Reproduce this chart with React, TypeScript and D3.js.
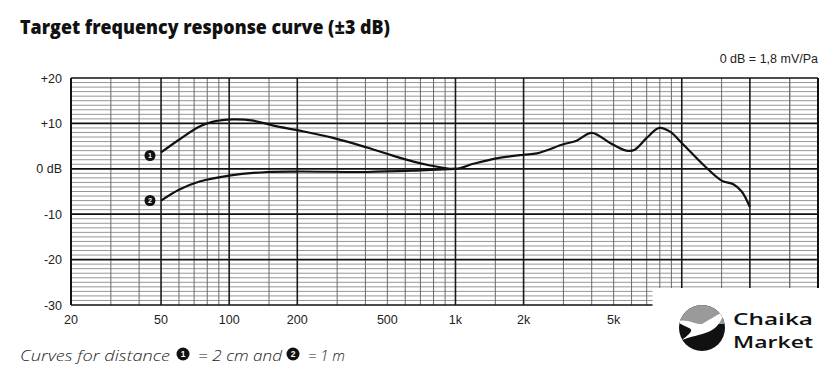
import React from "react";
import * as d3 from "d3";

// ---- Data ----
const freqsLow1 = [50, 60, 74, 85, 104, 128, 157, 205, 288, 406, 569, 747, 1000];
const dbLow1 = [3.6, 6.4, 9.3, 10.4, 10.9, 10.6, 9.5, 8.4, 6.8, 4.7, 2.4, 0.9, 0];
const freqsLow2 = [50, 60, 74, 100, 147, 205, 406, 666, 1000];
const dbLow2 = [-7.0, -4.6, -2.8, -1.5, -0.7, -0.6, -0.7, -0.4, 0];
const freqsHigh = [1000, 1200, 1520, 2000, 2290, 3000, 3430, 4000, 4820, 5700, 6200, 7000, 7960, 8870, 10000, 12450, 15000, 16900, 18400, 20000];
const dbHigh = [0, 1.1, 2.3, 3.1, 3.4, 5.4, 6.2, 7.9, 5.7, 4.0, 4.2, 6.8, 9.0, 8.2, 5.7, 0.9, -2.6, -3.4, -5.0, -8.4];

const yTickValues = [20, 10, 0, -10, -20, -30];
const yTickLabels = ["+20", "+10", "0 dB", "-10", "-20", "-30"];
const xTickValues = [20, 50, 100, 200, 500, 1000, 2000, 5000];
const xTickLabels = ["20", "50", "100", "200", "500", "1k", "2k", "5k"];
const gridMultipliers = [1, 1.5, 2, 3, 4, 5, 6, 7, 8, 9];
const gridDecades = [10, 100, 1000, 10000];
const thickFreqs = [50, 100, 200, 1000, 2000, 10000, 20000];

const titleText = "Target frequency response curve (±3 dB)";
const refText = "0 dB = 1,8 mV/Pa";

const W = 840;
const H = 381;
const left = 71;
const right = 818;
const top = 78;
const bottom = 305;

export default function App() {
  const x = d3.scaleLog().domain([20, 40000]).range([left, right]);
  const y = d3.scaleLinear().domain([-30, 20]).range([bottom, top]);

  const gridFreqs: number[] = [];
  gridDecades.forEach((d) =>
    gridMultipliers.forEach((m) => {
      const f = d * m;
      if (f > 20 && f < 40000) gridFreqs.push(f);
    })
  );
  gridFreqs.push(30000);
  const dbLines = d3.range(-29, 20, 1).filter((v) => v % 10 !== 0);

  const line = d3
    .line<[number, number]>()
    .x((d) => x(d[0]))
    .y((d) => y(d[1]))
    .curve(d3.curveCatmullRom.alpha(0.5));

  const c1: [number, number][] = [
    ...freqsLow1.map((f, i) => [f, dbLow1[i]] as [number, number]),
    ...freqsHigh.slice(1).map((f, i) => [f, dbHigh[i + 1]] as [number, number]),
  ];
  const c2: [number, number][] = freqsLow2.map((f, i) => [f, dbLow2[i]]);

  const axisFont = "'Liberation Sans', Arial, sans-serif";
  const geoFont = "'Open Sans', 'Noto Sans', sans-serif";

  const Badge = ({ cx, cy, r, n }: { cx: number; cy: number; r: number; n: string }) => (
    <g>
      <circle cx={cx} cy={cy} r={r} fill="#111" />
      <text
        x={cx}
        y={cy + r * 0.42}
        textAnchor="middle"
        fontFamily={axisFont}
        fontWeight={700}
        fontSize={r * 1.3}
        fill="#fff"
      >
        {n}
      </text>
    </g>
  );

  const lx = 702;
  const ly = 328;
  const lr = 23;

  return (
    <svg
      width={W}
      height={H}
      style={{ position: "absolute", left: 0, top: 0, background: "#fff" }}
    >
      <rect x={0} y={0} width={W} height={H} fill="#fff" />
      <text
        x={20}
        y={34}
        fontFamily={geoFont}
        fontWeight={800}
        fontSize={18.5}
        fill="#111"
        textLength={370}
        lengthAdjust="spacingAndGlyphs"
      >
        {titleText}
      </text>
      <text x={818} y={63} textAnchor="end" fontFamily={axisFont} fontSize={12.5} fill="#222">
        {refText}
      </text>

      {/* thin horizontal grid */}
      {dbLines.map((v) => (
        <line key={"h" + v} x1={left} x2={right} y1={y(v)} y2={y(v)} stroke="#8a8a8a" strokeWidth={0.9} />
      ))}
      {/* vertical grid */}
      {gridFreqs.map((f) => {
        const thick = thickFreqs.includes(f);
        return (
          <line
            key={"v" + f}
            x1={x(f)}
            x2={x(f)}
            y1={top}
            y2={bottom}
            stroke={thick ? "#1a1a1a" : "#6a6a6a"}
            strokeWidth={thick ? 1.6 : 1}
          />
        );
      })}
      {/* thick horizontal */}
      {yTickValues.map((v) => (
        <line key={"H" + v} x1={left} x2={right} y1={y(v)} y2={y(v)} stroke="#111" strokeWidth={1.7} />
      ))}
      <line x1={left} x2={left} y1={top} y2={bottom} stroke="#111" strokeWidth={2} />
      <line x1={right} x2={right} y1={top} y2={bottom} stroke="#111" strokeWidth={2} />

      {/* y labels */}
      {yTickValues.map((v, i) => (
        <text
          key={"yl" + v}
          x={62}
          y={y(v) + 4.5}
          textAnchor="end"
          fontFamily={axisFont}
          fontSize={12.5}
          fill="#222"
        >
          {yTickLabels[i]}
        </text>
      ))}
      {/* x labels */}
      {xTickValues.map((v, i) => (
        <text
          key={"xl" + v}
          x={x(v)}
          y={324}
          textAnchor="middle"
          fontFamily={axisFont}
          fontSize={12.5}
          fill="#222"
        >
          {xTickLabels[i]}
        </text>
      ))}

      {/* curves */}
      <path d={line(c2) || ""} fill="none" stroke="#111" strokeWidth={2.2} strokeLinejoin="round" />
      <path d={line(c1) || ""} fill="none" stroke="#111" strokeWidth={2.2} strokeLinejoin="round" />
      <Badge cx={150} cy={155.5} r={5.5} n="1" />
      <Badge cx={150} cy={200.5} r={5.5} n="2" />

      {/* white patch over lower right */}
      <rect x={652.5} y={288} width={W - 652.5} height={H - 288} fill="#fff" />

      {/* caption */}
      <text x={20} y={361} fontFamily={geoFont} fontStyle="italic" fontWeight={300} fontSize={15} fill="#222" textLength={150} lengthAdjust="spacingAndGlyphs">
        Curves for distance
      </text>
      <Badge cx={183} cy={354} r={6.5} n="1" />
      <text x={198} y={361} fontFamily={geoFont} fontStyle="italic" fontWeight={300} fontSize={15} fill="#222" textLength={84} lengthAdjust="spacingAndGlyphs">
        = 2 cm and
      </text>
      <Badge cx={293} cy={354} r={6.5} n="2" />
      <text x={308} y={361} fontFamily={geoFont} fontStyle="italic" fontWeight={300} fontSize={15} fill="#222" textLength={37} lengthAdjust="spacingAndGlyphs">
        = 1 m
      </text>

      {/* logo */}
      <defs>
        <clipPath id="logoClip">
          <circle cx={lx} cy={ly} r={lr} />
        </clipPath>
      </defs>
      <g clipPath="url(#logoClip)">
        <rect x={lx - lr} y={ly - lr} width={lr * 2} height={lr * 2} fill="#111" />
        <rect x={lx - lr} y={ly - lr} width={lr * 2} height={lr - 4} fill="#9a9a9a" />
        <path
          d={`M ${lx - 24} ${ly - 7} C ${lx - 14} ${ly - 9} ${lx - 6} ${ly - 3} ${lx} ${ly - 4} L ${lx + 22} ${ly - 17} C ${lx + 20} ${ly - 6} ${lx + 14} ${ly + 1} ${lx + 6} ${ly + 4} C ${lx - 1} ${ly + 7} ${lx - 10} ${ly + 8} ${lx - 20} ${ly + 12} C ${lx - 12} ${ly + 6} ${lx - 8} ${ly + 2} ${lx - 13} ${ly} C ${lx - 17} ${ly - 2} ${lx - 21} ${ly - 3} ${lx - 24} ${ly - 7} Z`}
          fill="#fff"
        />
      </g>
      <text x={733} y={325} fontFamily={geoFont} fontWeight={600} fontSize={17} fill="#111" textLength={80} lengthAdjust="spacingAndGlyphs">
        Chaika
      </text>
      <text x={733} y={348} fontFamily={geoFont} fontWeight={600} fontSize={17} fill="#111" textLength={80} lengthAdjust="spacingAndGlyphs">
        Market
      </text>
    </svg>
  );
}
